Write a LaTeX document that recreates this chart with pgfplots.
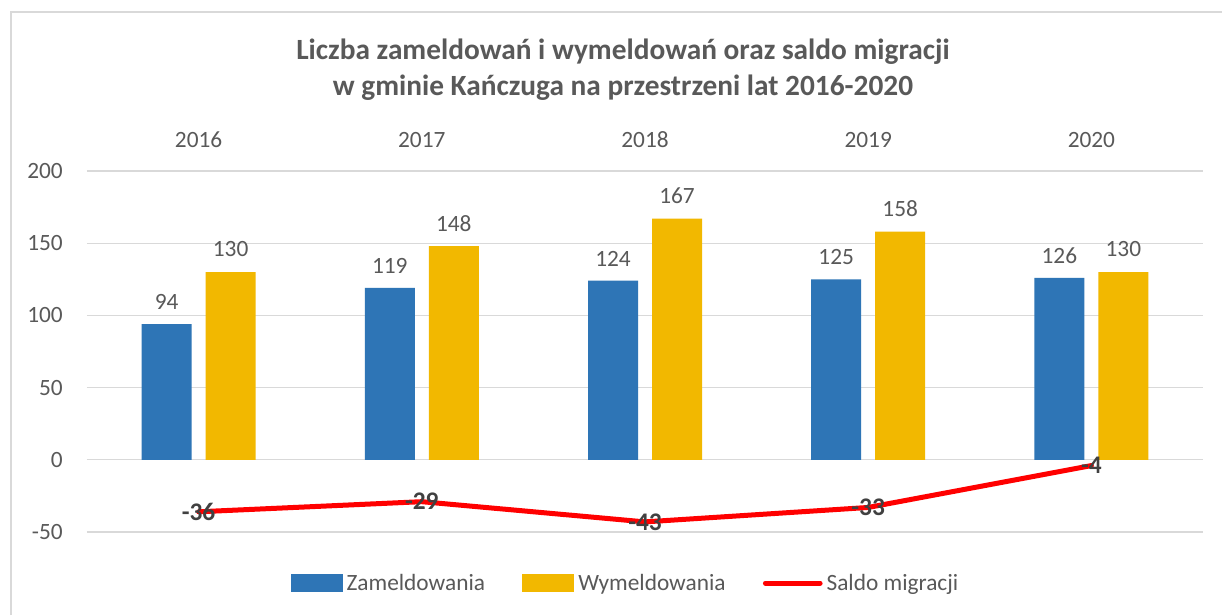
\documentclass[border=0pt]{standalone}
\usepackage{fontspec}
\setmainfont{Carlito}
\usepackage{pgfplots}
\pgfplotsset{compat=1.18}
\definecolor{zblue}{HTML}{2E75B6}
\definecolor{zgold}{HTML}{F2B800}
\definecolor{txt}{HTML}{595959}
\definecolor{gridc}{HTML}{D9D9D9}
\definecolor{dark}{HTML}{404040}
\begin{document}
\begin{tikzpicture}
\useasboundingbox (-65.25pt,-62.25pt) rectangle (851.25pt,399pt);
\fill[white] (-65.25pt,-62.25pt) rectangle (851.25pt,399pt);
\draw[gridc, line width=1.2pt] (-57pt,-62.25pt) -- (-57pt,390pt) -- (851.25pt,390pt);
\node[font=\fontsize{22}{27}\selectfont\bfseries, text=txt, align=center] at (402pt,346.5pt)
  {Liczba zameldowań i wymeldowań oraz saldo migracji\\w gminie Kańczuga na przestrzeni lat 2016-2020};
\begin{axis}[
  at={(0pt,0pt)}, anchor=south west,
  scale only axis, width=837pt, height=270.75pt,
  xmin=-0.5, xmax=4.5, ymin=-50, ymax=200,
  xtick={0,1,2,3,4}, xticklabels={2016,2017,2018,2019,2020},
  xticklabel pos=upper,
  ytick={-50,0,50,100,150,200},
  ymajorgrids, grid style={gridc, line width=0.9pt},
  axis line style={draw=none},
  major tick length=0pt,
  clip=false,
  tick label style={font=\fontsize{17.5}{20}\selectfont, text=txt},
  /pgf/number format/assume math mode=true,
  xticklabel style={anchor=south, inner sep=0pt, yshift=17.5pt},
  yticklabel style={anchor=east, inner sep=0pt, xshift=-18pt},
  legend style={at={(0.4834,-0.1413)}, anchor=center, draw=none, fill=none,
    legend columns=3, font=\fontsize{17.5}{20}\selectfont, text=txt,
    /tikz/every even column/.append style={column sep=25pt},
    inner sep=0pt, nodes={inner sep=3pt}},
  legend cell align=left,
]
\addplot[ybar, bar width=37.5pt, bar shift=-24pt, fill=zblue, draw=none,
  nodes near coords, nodes near coords style={anchor=center, xshift=-24pt, yshift=16.5pt, font=\fontsize{17.5}{20}\selectfont, text=txt},
  legend image code/.code={\fill[zblue] (0pt,-7pt) rectangle (39pt,7pt);}]
  coordinates {(0,94) (1,119) (2,124) (3,125) (4,126)};
\addlegendentry{Zameldowania}
\addplot[ybar, bar width=37.5pt, bar shift=24pt, fill=zgold, draw=none,
  nodes near coords, nodes near coords style={anchor=center, xshift=24pt, yshift=17pt, font=\fontsize{17.5}{20}\selectfont, text=txt},
  legend image code/.code={\fill[zgold] (0pt,-7pt) rectangle (39pt,7pt);}]
  coordinates {(0,130) (1,148) (2,167) (3,158) (4,130)};
\addlegendentry{Wymeldowania}
\addplot[red, line width=3.75pt, line join=round, line cap=round, mark=none,
  legend image code/.code={\draw[red, line width=3.75pt, line cap=round] (0pt,0pt) -- (41pt,0pt);}]
  coordinates {(0,-36) (1,-29) (2,-43) (3,-33) (4,-4)};
\addlegendentry{Saldo migracji}
\addplot[draw=none, mark=none, forget plot,
  nodes near coords, nodes near coords style={anchor=center, font=\fontsize{19}{20}\selectfont\bfseries, text=dark}]
  coordinates {(0,-36) (1,-29) (2,-43) (3,-33) (4,-4)};
\end{axis}
\end{tikzpicture}
\end{document}
